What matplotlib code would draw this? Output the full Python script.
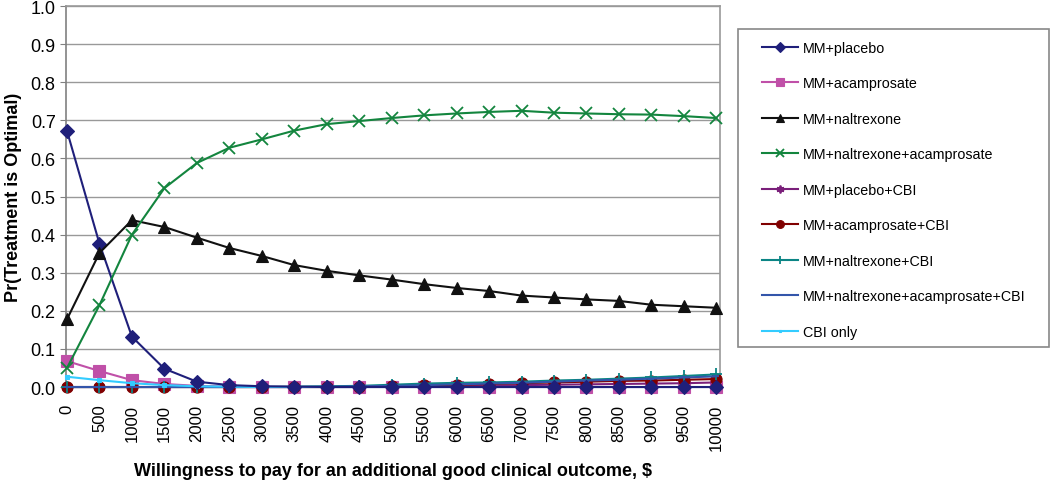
import numpy as np
import matplotlib
matplotlib.use("Agg")
import matplotlib.pyplot as plt
from matplotlib.patches import Rectangle

plt.rcParams['font.family'] = ['Liberation Sans', 'DejaVu Sans']

# willingness to pay, $
wtp = [0, 500, 1000, 1500, 2000, 2500, 3000, 3500, 4000, 4500, 5000,
       5500, 6000, 6500, 7000, 7500, 8000, 8500, 9000, 9500, 10000]

mm_placebo = [0.672, 0.376, 0.132, 0.048, 0.014, 0.005, 0.002, 0.001, 0.0, 0.0, 0.0,
              0.0, 0.0, 0.0, 0.0, 0.0, 0.0, 0.0, 0.0, 0.0, 0.0]
mm_acamp = [0.068, 0.042, 0.018, 0.008, 0.003, 0.001, 0.0, 0.0, 0.0, 0.0, 0.0,
            0.0, 0.0, 0.0, 0.0, 0.0, 0.0, 0.0, 0.0, 0.0, 0.0]
mm_naltr = [0.178, 0.352, 0.438, 0.420, 0.392, 0.365, 0.344, 0.320, 0.305, 0.293, 0.282,
            0.270, 0.260, 0.252, 0.240, 0.235, 0.230, 0.226, 0.216, 0.212, 0.208]
mm_naltr_acamp = [0.050, 0.215, 0.400, 0.522, 0.588, 0.628, 0.650, 0.673, 0.690, 0.698, 0.706,
                  0.713, 0.718, 0.722, 0.725, 0.720, 0.718, 0.716, 0.715, 0.711, 0.706]
mm_placebo_cbi = [0.0, 0.0, 0.0, 0.0, 0.0, 0.0, 0.0, 0.0, 0.0, 0.0, 0.001,
                  0.002, 0.003, 0.004, 0.005, 0.006, 0.007, 0.008, 0.009, 0.010, 0.012]
mm_acamp_cbi = [0.0, 0.0, 0.0, 0.0, 0.0, 0.0, 0.0, 0.0, 0.0, 0.001, 0.002,
                0.004, 0.006, 0.008, 0.010, 0.012, 0.014, 0.016, 0.017, 0.019, 0.021]
mm_naltr_cbi = [0.0, 0.0, 0.0, 0.0, 0.0, 0.0, 0.0, 0.001, 0.002, 0.003, 0.006,
                0.009, 0.011, 0.012, 0.014, 0.017, 0.019, 0.022, 0.025, 0.029, 0.033]
mm_na_cbi = [0.0, 0.0, 0.0, 0.0, 0.0, 0.0, 0.0, 0.0, 0.001, 0.002, 0.003,
             0.005, 0.007, 0.009, 0.011, 0.014, 0.017, 0.019, 0.022, 0.025, 0.028]
cbi_only = [0.027, 0.018, 0.010, 0.005, 0.002, 0.001, 0.0, 0.0, 0.0, 0.0, 0.0,
            0.0, 0.0, 0.0, 0.0, 0.0, 0.0, 0.0, 0.0, 0.0, 0.0]

series = [
    ("MM+placebo", mm_placebo, "#1f1f7a", "D", 7),
    ("MM+acamprosate", mm_acamp, "#c050a8", "s", 8),
    ("MM+naltrexone", mm_naltr, "#111111", "^", 8),
    ("MM+naltrexone+acamprosate", mm_naltr_acamp, "#13853e", "x", 8),
    ("MM+placebo+CBI", mm_placebo_cbi, "#7a1f7a", (6, 2, 0), 8),
    ("MM+acamprosate+CBI", mm_acamp_cbi, "#800000", "o", 8),
    ("MM+naltrexone+CBI", mm_naltr_cbi, "#0b8585", "+", 9),
    ("MM+naltrexone+acamprosate+CBI", mm_na_cbi, "#3355aa", "_", 5),
    ("CBI only", cbi_only, "#33ccff", "s", 3),
]

fig = plt.figure(figsize=(10.5, 4.81), dpi=100)
ax = fig.add_axes([0.0629, 0.1933, 0.623, 0.7921])

x = np.arange(len(wtp))
# main treatments first, small CBI series over them (as in the original)
z = {"MM+placebo": 5, "MM+acamprosate": 3, "MM+naltrexone": 6,
     "MM+naltrexone+acamprosate": 6}
for name, vals, col, mk, ms in series:
    ax.plot(x, vals, color=col, marker=mk, markersize=ms, linewidth=1.5,
            markeredgewidth=1.3 if mk in ("x", "+", "_") or isinstance(mk, tuple) else 0.8,
            label=name, clip_on=False, zorder=z.get(name, 4))

ax.set_xlim(-0.03, 20.12)
ax.set_ylim(0, 1.0)
ax.set_yticks(np.arange(0, 1.01, 0.1))
ax.set_yticklabels([f"{v:.1f}" for v in np.arange(0, 1.01, 0.1)], fontsize=13)
ax.set_xticks(x)
ax.set_xticklabels([str(v) for v in wtp], rotation=90, fontsize=12)
ax.tick_params(axis='x', length=0, pad=12)
ax.tick_params(axis='y', length=4, color="#808080", direction='out')
ax.grid(axis='y', color="#999999", linewidth=1)
ax.set_axisbelow(True)
for s in ax.spines.values():
    s.set_color("#999999")
    s.set_linewidth(1.2)
ax.spines['left'].set_color("#808080")

ax.set_xlabel("Willingness to pay for an additional good clinical outcome, $",
              fontsize=13, fontweight='bold', labelpad=9)
ax.set_ylabel("Pr(Treatment is Optimal)", fontsize=13, fontweight='bold', labelpad=6)

# legend box drawn separately so it can span to the right edge
fig.patches.append(Rectangle((0.7029, 0.2765), 0.2962, 0.661, transform=fig.transFigure,
                             facecolor="white", edgecolor="#888888", linewidth=1.2))
handles, labels = ax.get_legend_handles_labels()
leg = fig.legend(handles, labels, loc='upper left', bbox_to_anchor=(0.7257, 0.913),
                 fontsize=10.3, frameon=False, labelspacing=1.5,
                 handlelength=2.5, handletextpad=0.35, borderpad=0,
                 markerscale=0.7, borderaxespad=0)

fig.savefig("out.png", dpi=100)
